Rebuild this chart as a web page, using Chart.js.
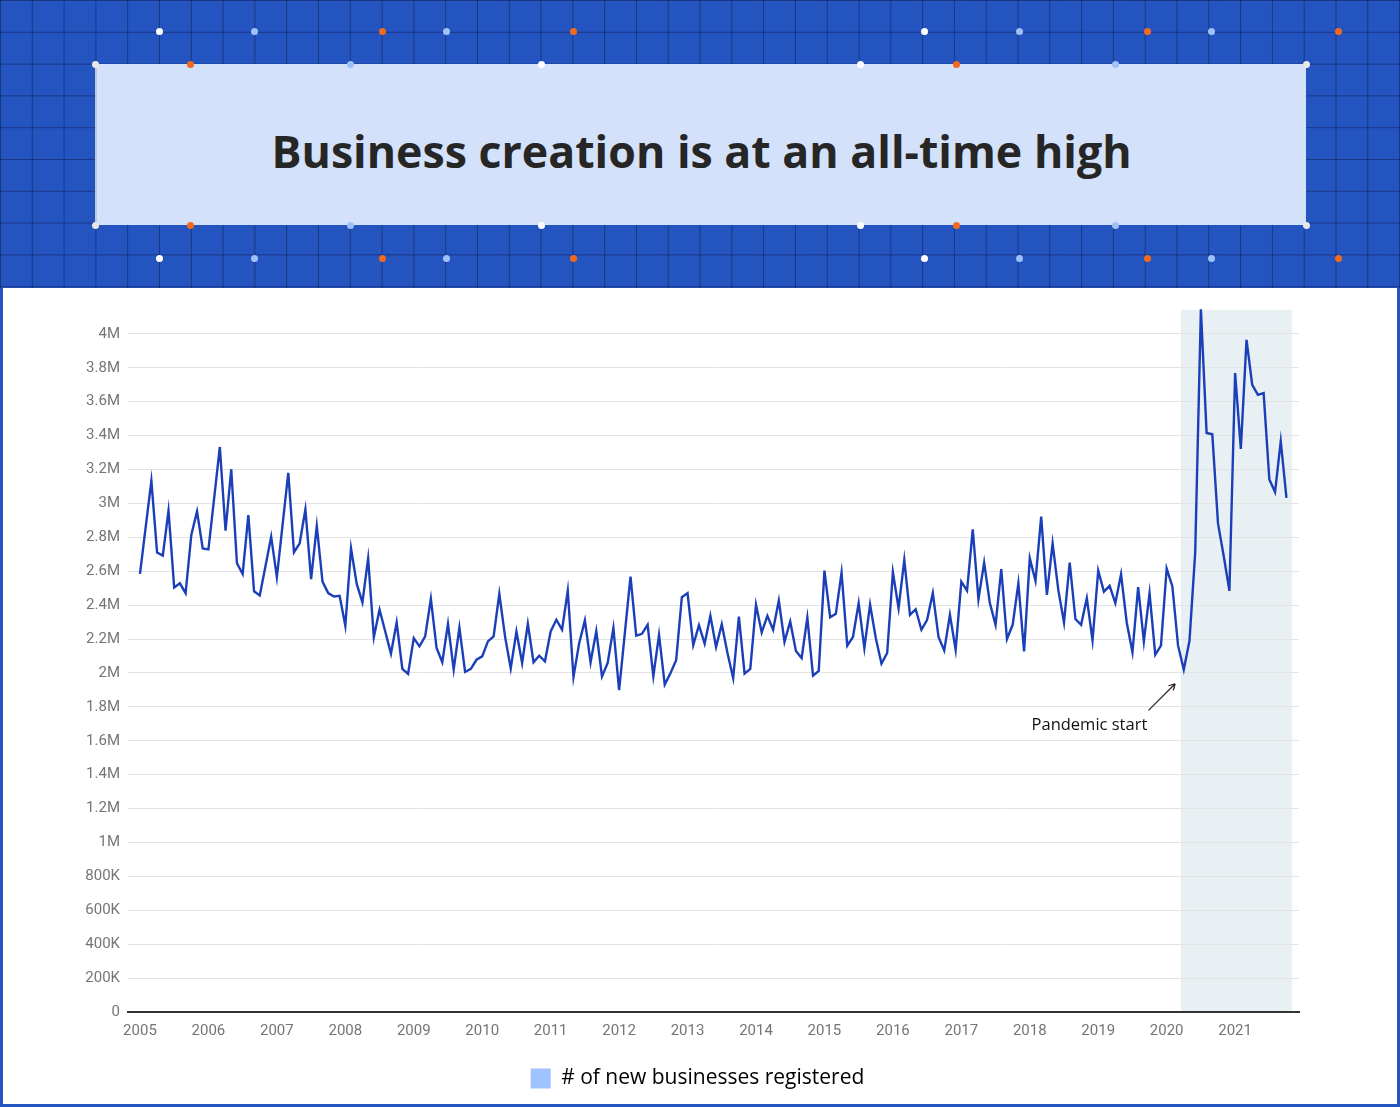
<!DOCTYPE html>
<html>
<head>
<meta charset="utf-8">
<title>Business creation is at an all-time high</title>
<script src="https://cdn.jsdelivr.net/npm/chart.js@4.4.1/dist/chart.umd.min.js"></script>
<style>
  html, body { margin: 0; padding: 0; width: 1400px; height: 1107px; overflow: hidden; background: #fff; }
  .banner {
    position: absolute; left: 0; top: 0; width: 1400px; height: 288px; overflow: hidden;
    background-color: #2454c0;
    background-image:
      linear-gradient(to right, rgba(18, 34, 92, 0.6) 1px, transparent 1px),
      linear-gradient(to bottom, rgba(18, 34, 92, 0.6) 1px, transparent 1px);
    background-size: 31.8px 31.8px;
  }
  .title-box {
    position: absolute; left: 95px; top: 64px; width: 1211px; height: 161px;
    background: #d3e2fa; border-left: 2px solid #c3c8d0; box-sizing: border-box;
  }
  .title-box h1 {
    position: absolute; left: 0; right: 0; top: 56px; margin: 0;
    text-align: center; line-height: 60px;
    font: 700 44.7px "Open Sans", sans-serif; color: #262626;
  }
  .dot { position: absolute; width: 7px; height: 7px; border-radius: 50%; margin: -3.5px 0 0 -3.5px; }
  .panel {
    position: absolute; left: 0; top: 288px; width: 1400px; height: 819px;
    box-sizing: border-box; border: 3px solid #2454c0; border-top: none; background: #fff;
  }
  #chart { position: absolute; left: 0; top: 288px; }
</style>
</head>
<body>
<div class="banner" id="banner">
  <div class="title-box"><h1>Business creation is at an all-time high</h1></div>
</div>
<div class="panel"></div>
<canvas id="chart" width="1400" height="819"></canvas>

<script>
"use strict";

// ── Data ───────────────────────────────────────────────────
// Monthly new business registrations (millions), Jan 2005 – Oct 2021.
const values = [
  2.584, 2.86, 3.133, 2.710, 2.692, 2.957, 2.504, 2.529, 2.471, 2.814, 2.953, 2.735, // 2005
  2.729, 3.03, 3.333, 2.839, 3.202, 2.647, 2.584, 2.931, 2.482, 2.457, 2.63, 2.804,  // 2006
  2.565, 2.873, 3.180, 2.712, 2.765, 2.965, 2.553, 2.867, 2.539, 2.471, 2.451, 2.455, // 2007
  2.278, 2.735, 2.525, 2.416, 2.676, 2.212, 2.373, 2.245, 2.114, 2.298, 2.024, 1.994, // 2008
  2.206, 2.157, 2.216, 2.437, 2.147, 2.063, 2.290, 2.020, 2.267, 2.006, 2.024, 2.078, // 2009
  2.098, 2.186, 2.216, 2.467, 2.216, 2.027, 2.245, 2.059, 2.290, 2.063, 2.102, 2.069, // 2010
  2.245, 2.314, 2.255, 2.486, 1.976, 2.176, 2.310, 2.063, 2.247, 1.980, 2.059, 2.265, // 2011
  1.898, 2.233, 2.569, 2.220, 2.231, 2.284, 1.980, 2.225, 1.931, 1.998, 2.075, 2.447, // 2012
  2.471, 2.165, 2.282, 2.173, 2.337, 2.153, 2.288, 2.118, 1.969, 2.333, 1.996, 2.024, // 2013
  2.402, 2.239, 2.337, 2.255, 2.427, 2.184, 2.304, 2.129, 2.088, 2.327, 1.984, 2.012, // 2014
  2.604, 2.329, 2.349, 2.592, 2.161, 2.212, 2.412, 2.147, 2.404, 2.206, 2.055, 2.118, // 2015
  2.594, 2.382, 2.667, 2.343, 2.376, 2.255, 2.314, 2.471, 2.212, 2.133, 2.343, 2.137, // 2016
  2.539, 2.486, 2.847, 2.435, 2.651, 2.412, 2.284, 2.612, 2.200, 2.284, 2.529, 2.127, // 2017
  2.676, 2.543, 2.922, 2.461, 2.765, 2.490, 2.298, 2.651, 2.318, 2.284, 2.441, 2.192, // 2018
  2.604, 2.480, 2.514, 2.412, 2.582, 2.298, 2.122, 2.506, 2.186, 2.471, 2.108, 2.161, // 2019
  2.616, 2.510, 2.161, 2.020, 2.190, 2.710, 4.145, 3.416, 3.408, 2.882, 2.690, 2.484, // 2020
  3.769, 3.322, 3.965, 3.700, 3.641, 3.651, 3.141, 3.067, 3.367, 3.033                // 2021
];

// One x tick per January, labelled with the year.
const yearLabels = ["2005", "2006", "2007", "2008", "2009", "2010", "2011", "2012",
                    "2013", "2014", "2015", "2016", "2017", "2018", "2019", "2020", "2021"];

const seriesLabel = "# of new businesses registered";
const noteText = "Pandemic start";
const noteIndex = 183;                 // Apr 2020, the dip the arrow points at
const shadeFrom = 182.5, shadeTo = 202; // pandemic period band (month index)

// ── Banner decoration (dots on the grid) ───────────────────
const WHITE = "#ffffff", LIGHT = "#9ec2f7", ORANGE = "#f26a1f";
const outerDots = [[159, WHITE], [254, LIGHT], [382, ORANGE], [446, LIGHT], [573, ORANGE],
                   [924, WHITE], [1019, LIGHT], [1147, ORANGE], [1211, LIGHT], [1338, ORANGE]];
const edgeDots = [[95, "#e8e8e8"], [190, ORANGE], [350, LIGHT], [541, WHITE],
                  [860, WHITE], [956, ORANGE], [1115, LIGHT], [1306, "#e8e8e8"]];

function addDot(x, y, color) {
  const d = document.createElement("div");
  d.className = "dot";
  d.style.left = x + "px";
  d.style.top = y + "px";
  d.style.background = color;
  document.getElementById("banner").appendChild(d);
}
outerDots.forEach(([x, c]) => { addDot(x, 31, c); addDot(x, 258, c); });
edgeDots.forEach(([x, c]) => { addDot(x, 64, c); addDot(x, 225, c); });

// ── Helpers ────────────────────────────────────────────────
/** 0 → "0", 0.4 → "400K", 1.2 → "1.2M"; off-step values get no tick. */
function formatTick(v) {
  const r = Math.round(v * 1000) / 1000;
  if (Math.abs(r * 5 - Math.round(r * 5)) > 1e-6) return null;
  if (r === 0) return "0";
  if (r >= 1) return Math.round(r * 10) / 10 + "M";
  return Math.round(r * 1000) + "K";
}

// Light band behind the pandemic months (drawn under the grid).
const shadePlugin = {
  id: "pandemicShade",
  beforeDraw(chart) {
    const { ctx, chartArea, scales } = chart;
    const left = scales.x.getPixelForValue(shadeFrom);
    const right = scales.x.getPixelForValue(shadeTo);
    ctx.save();
    ctx.fillStyle = "#e9f0f3";
    ctx.fillRect(left, chartArea.top + 1.5, right - left, chartArea.bottom - chartArea.top - 1.5);
    ctx.restore();
  },
};

// Arrow + caption pointing at the April 2020 dip.
const notePlugin = {
  id: "pandemicNote",
  afterDatasetsDraw(chart) {
    const { ctx, scales } = chart;
    const px = scales.x.getPixelForValue(noteIndex);
    const py = scales.y.getPixelForValue(values[noteIndex]);
    const tipX = px - 8.6, tipY = py + 14.2;
    const tailX = px - 35.3, tailY = py + 40.8;
    ctx.save();
    ctx.strokeStyle = "#222";
    ctx.lineWidth = 1.2;
    ctx.beginPath();
    ctx.moveTo(tailX, tailY);
    ctx.lineTo(tipX, tipY);
    const ang = Math.atan2(tipY - tailY, tipX - tailX);
    for (const s of [-1, 1]) {
      ctx.moveTo(tipX, tipY);
      ctx.lineTo(tipX - 7 * Math.cos(ang + s * 0.5), tipY - 7 * Math.sin(ang + s * 0.5));
    }
    ctx.stroke();
    ctx.fillStyle = "#111";
    ctx.font = '16.5px "Open Sans"';
    ctx.textAlign = "right";
    ctx.textBaseline = "middle";
    ctx.fillText(noteText, px - 36.5, py + 56);
    ctx.restore();
  },
};

// ── Chart ──────────────────────────────────────────────────
const tickFont = { family: "Roboto", size: 15 };

new Chart(document.getElementById("chart"), {
  type: "line",
  data: {
    datasets: [{
      label: seriesLabel,
      data: values.map((v, i) => ({ x: i, y: v })),
      borderColor: "#1b3fb8",
      backgroundColor: "#a0c3ff",
      borderWidth: 2.4,
      pointRadius: 0,
      tension: 0,
    }],
  },
  options: {
    responsive: false,
    animation: false,
    layout: { padding: { top: 20.5, right: 5, bottom: 8, left: 0 } },
    scales: {
      x: {
        type: "linear",
        min: -2.1,
        max: 203.2,
        grid: { display: false, drawTicks: false },
        border: { display: true, color: "#333", width: 2 },
        afterBuildTicks: (s) => { s.ticks = yearLabels.map((_, k) => ({ value: k * 12 })); },
        afterFit: (s) => { s.height = 46; },
        ticks: {
          autoSkip: false, maxRotation: 0, padding: 10,
          color: "#757575", font: tickFont,
          callback: (v) => yearLabels[Math.round(v / 12)],
        },
      },
      y: {
        min: 0,
        max: 4.15,
        grid: { color: "#e3e3e3", lineWidth: 1, drawTicks: false },
        border: { display: false },
        afterFit: (s) => { s.width = 128; },
        ticks: { stepSize: 0.2, padding: 8, color: "#757575", font: tickFont, callback: formatTick },
      },
      // Empty right-hand gutter so the legend centres on the whole panel.
      gutter: {
        position: "right",
        grid: { display: false, drawTicks: false },
        border: { display: false },
        ticks: { display: false },
        afterFit: (s) => { s.width = 96; },
      },
    },
    plugins: {
      legend: {
        position: "bottom",
        labels: {
          boxWidth: 20, boxHeight: 20, color: "#222",
          font: { family: "Open Sans", size: 21 },
          generateLabels: () => [{
            text: seriesLabel, fillStyle: "#a0c3ff", strokeStyle: "#a0c3ff",
            lineWidth: 0, hidden: false, datasetIndex: 0,
          }],
        },
      },
      tooltip: { enabled: false },
    },
  },
  plugins: [shadePlugin, notePlugin],
});
</script>
</body>
</html>
